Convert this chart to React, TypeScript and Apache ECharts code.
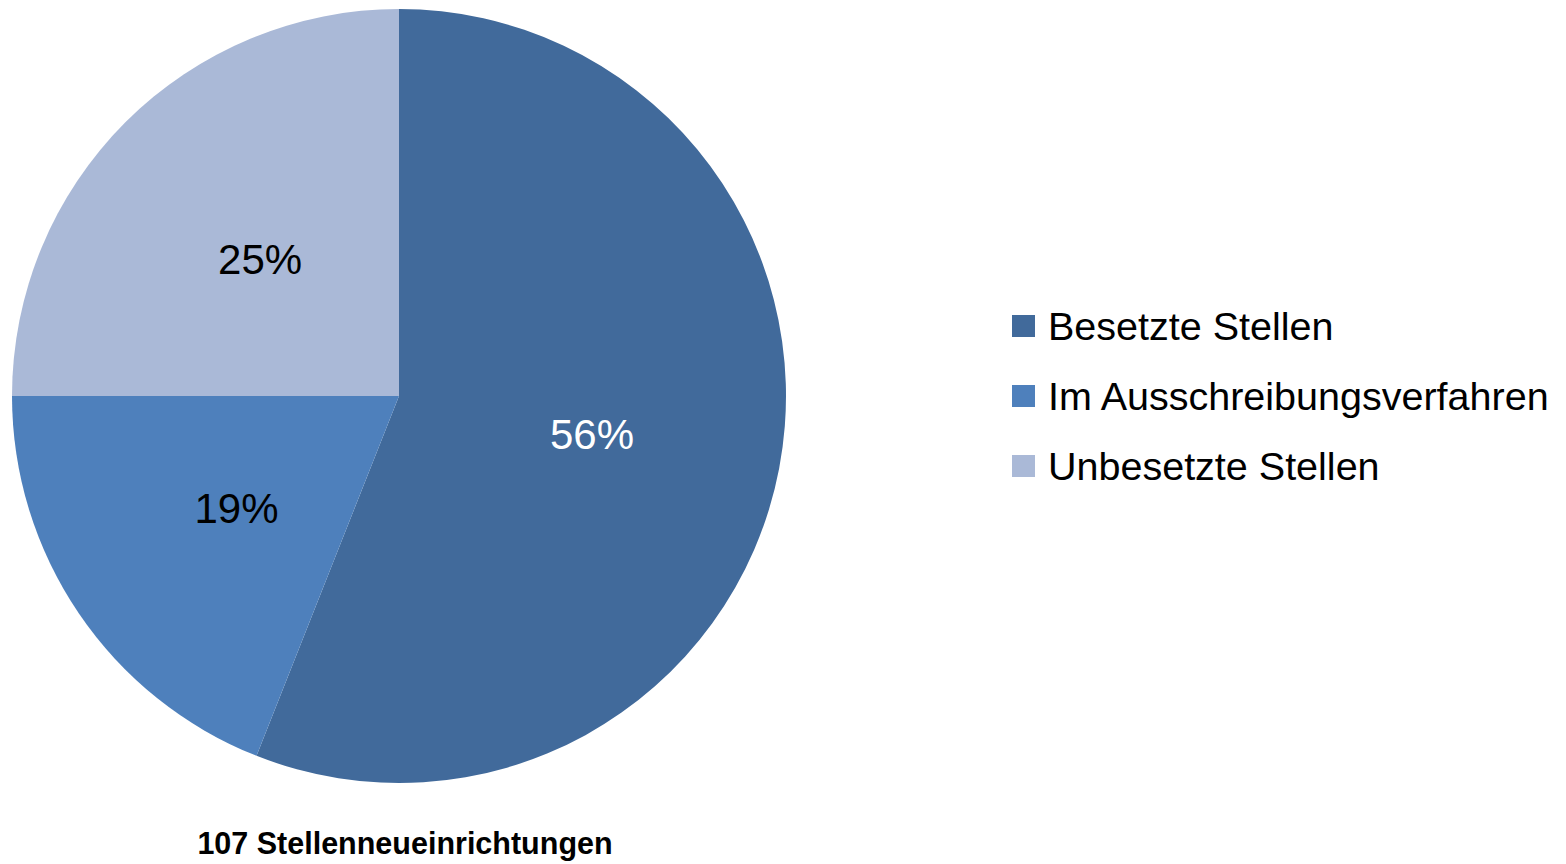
import React, { useEffect, useRef } from "react";
import * as echarts from "echarts";

const categories = ["Besetzte Stellen", "Im Ausschreibungsverfahren", "Unbesetzte Stellen"];
const values = [56, 19, 25];
const colors = ["#416a9b", "#4e80bc", "#aab9d7"];
const labelColors = ["#ffffff", "#000000", "#000000"];
const footerText = "107 Stellenneueinrichtungen";

const FONT = "'Liberation Sans Narrow', 'Arial Narrow', 'Liberation Sans', Arial, sans-serif";

export default function App() {
  const ref = useRef<HTMLDivElement>(null);
  useEffect(() => {
    if (!ref.current) return;
    const chart = echarts.init(ref.current, null, { renderer: "svg" });
    chart.setOption({
      animation: false,
      backgroundColor: "#ffffff",
      legend: {
        orient: "vertical",
        left: 1012,
        top: 306,
        padding: 0,
        itemGap: 30,
        itemWidth: 23,
        itemHeight: 22,
        icon: "rect",
        data: categories,
        textStyle: {
          fontFamily: FONT,
          fontSize: 39.5,
          color: "#000000",
          lineHeight: 40,
          padding: [0, 0, 0, 8],
        },
      },
      graphic: [
        {
          type: "text",
          x: 405,
          y: 843,
          style: {
            text: footerText,
            fontFamily: FONT,
            fontSize: 30.5,
            fontWeight: "bold",
            fill: "#000000",
            textAlign: "center",
            textVerticalAlign: "middle",
          },
        },
      ],
      series: [
        {
          type: "pie",
          center: [399, 396],
          radius: [0, 387],
          startAngle: 90,
          clockwise: true,
          avoidLabelOverlap: false,
          label: {
            show: true,
            position: "inside",
            fontFamily: FONT,
            fontSize: 42,
            offset: [0, 2],
            formatter: "{d}%",
          },
          labelLine: { show: false },
          itemStyle: { borderWidth: 0 },
          data: categories.map((name, i) => ({
            name,
            value: values[i],
            itemStyle: { color: colors[i] },
            label: { color: labelColors[i] },
          })),
        },
      ],
    });
    return () => chart.dispose();
  }, []);
  return (
    <div
      ref={ref}
      style={{ position: "fixed", left: 0, top: 0, width: 1566, height: 864 }}
    />
  );
}
